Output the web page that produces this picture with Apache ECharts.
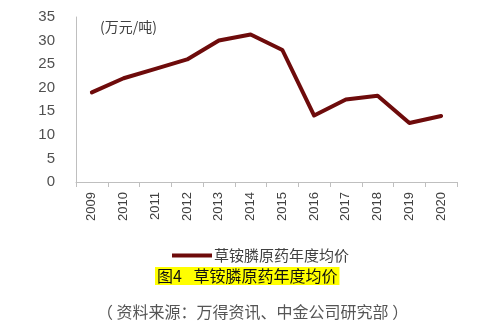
<!DOCTYPE html>
<html>
<head>
<meta charset="utf-8">
<script src="https://cdn.jsdelivr.net/npm/echarts@6/dist/echarts.min.js"></script>
<style>
html,body{margin:0;padding:0;background:#fff;}
#chart{width:500px;height:336px;}
</style>
</head>
<body>
<div id="chart"></div>
<script>
// Annual average price of glufosinate-ammonium technical (10k CNY / tonne)
const years = ['2009','2010','2011','2012','2013','2014','2015','2016','2017','2018','2019','2020'];
const prices = [19, 22, 24, 26, 30, 31.3, 28, 14.1, 17.5, 18.3, 12.5, 14];
const yTicks = { min: 0, max: 35, interval: 5 };
const seriesName = '草铵膦原药年度均价';
const unitLabel = '(万元/吨)';
const captionText = '图4\u2002 草铵膦原药年度均价';
const sourceText = '（ 资料来源：万得资讯、中金公司研究部 ）';

const cjk = '"Noto Sans CJK SC", "Liberation Sans", sans-serif';
const lineColor = '#6e0b0b';

const chart = echarts.init(document.getElementById('chart'), null, { renderer: 'canvas' });
chart.setOption({
  backgroundColor: '#fff',
  animation: false,
  textStyle: { fontFamily: cjk },
  grid: { left: 76, right: 43, top: 17, bottom: 154, containLabel: false },
  legend: {
    data: [{ name: seriesName, icon: 'rect' }],
    left: 167, top: 243,
    itemWidth: 40, itemHeight: 4, itemGap: 4,
    textStyle: { fontFamily: cjk, fontSize: 15, color: '#404040', padding: [0, 0, 0, -3] }
  },
  title: [
    {
      text: captionText,
      left: 155, top: 267,
      padding: [1, 2, 1, 2],
      backgroundColor: '#ffff00',
      textStyle: { fontFamily: cjk, fontSize: 16, fontWeight: 'normal', color: '#111' }
    },
    {
      text: sourceText,
      left: 92, top: 299,
      textStyle: { fontFamily: cjk, fontSize: 16, fontWeight: 'normal', color: '#555' }
    }
  ],
  graphic: [{
    type: 'text', left: 100, top: 20,
    style: { text: unitLabel, font: '14px ' + cjk, fill: '#404040' }
  }],
  xAxis: {
    type: 'category',
    data: years,
    boundaryGap: true,
    axisLine: { lineStyle: { color: '#bfbfbf', width: 1 } },
    axisTick: { show: true, length: 5, lineStyle: { color: '#bfbfbf' } },
    axisLabel: { rotate: 90, margin: 10, fontSize: 13, color: '#404040', fontFamily: '"Liberation Sans", sans-serif' }
  },
  yAxis: {
    type: 'value',
    min: yTicks.min, max: yTicks.max, interval: yTicks.interval,
    axisLine: { show: true, lineStyle: { color: '#bfbfbf', width: 1 } },
    axisTick: { show: false },
    splitLine: { show: false },
    axisLabel: { margin: 21, fontSize: 15, color: '#505050', fontFamily: '"Liberation Sans", sans-serif' }
  },
  series: [{
    name: seriesName,
    type: 'line',
    data: prices,
    symbol: 'none',
    lineStyle: { color: lineColor, width: 4, cap: 'round', join: 'round' },
    itemStyle: { color: lineColor }
  }]
});
</script>
</body>
</html>
